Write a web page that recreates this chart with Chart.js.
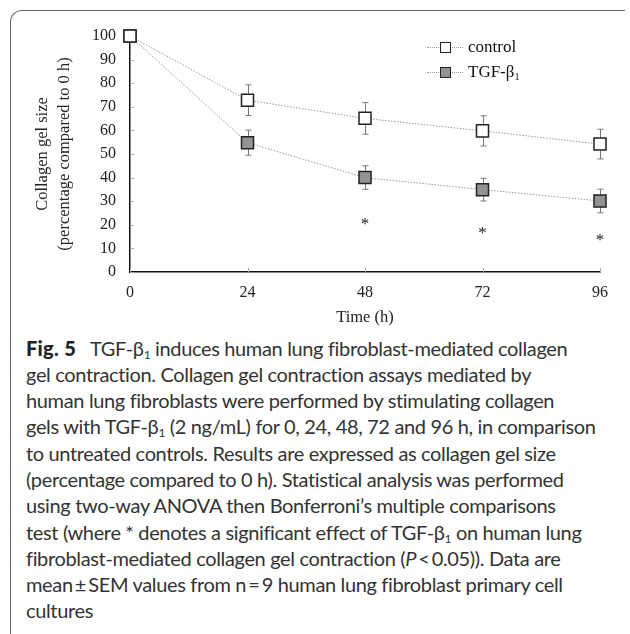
<!DOCTYPE html>
<html>
<head>
<meta charset="utf-8">
<script src="https://cdn.jsdelivr.net/npm/chart.js@4.4.1/dist/chart.umd.min.js"></script>
<style>
  html, body { margin: 0; padding: 0; background: #fff; }
  #page { position: relative; width: 630px; height: 634px; overflow: hidden; }
  #frame {
    position: absolute; left: 10px; top: 10px; width: 614px; height: 640px;
    border-top: 1.5px solid #666; border-left: 1.5px solid #666;
    border-top-left-radius: 12px;
  }
  #chart { position: absolute; left: 0; top: 0; }
  #legend { position: absolute; left: 427px; top: 34px; font: 17px "Liberation Serif", serif; color: #111; }
  .row { position: relative; height: 25.3px; display: flex; align-items: center; }
  .key { position: relative; width: 36px; height: 12px; margin-right: 5px; }
  .key::before { content: ""; position: absolute; left: 0; right: 0; top: 6px; border-top: 1px dotted #999; }
  .key span { position: absolute; left: 13px; top: 1px; width: 9px; height: 9px; border: 1.5px solid #222; }
  sub { font-size: 0.6em; line-height: 0; vertical-align: -0.25em; }
  #caption {
    position: absolute; left: 26px; top: 334.5px; white-space: nowrap;
    font: 20px Lato, "Noto Sans", sans-serif; letter-spacing: -0.35px; line-height: 26.3px; color: #333;
  }
  #caption b { color: #222; font-weight: 900; letter-spacing: 0.3px; margin-right: 5px; }
</style>
</head>
<body>
<div id="page">
  <div id="frame"></div>
  <canvas id="chart" width="630" height="332"></canvas>
  <div id="legend">
    <div class="row"><div class="key"><span style="background:#fff"></span></div><span>control</span></div>
    <div class="row"><div class="key"><span style="background:#939393"></span></div><span>TGF-β<sub>1</sub></span></div>
  </div>
  <div id="caption">
<b>Fig. 5</b>&nbsp; TGF-β<sub>1</sub> induces human lung fibroblast-mediated collagen<br>
gel contraction. Collagen gel contraction assays mediated by<br>
human lung fibroblasts were performed by stimulating collagen<br>
gels with TGF-β<sub>1</sub> (2 ng/mL) for 0, 24, 48, 72 and 96 h, in comparison<br>
to untreated controls. Results are expressed as collagen gel size<br>
(percentage compared to 0 h). Statistical analysis was performed<br>
using two-way ANOVA then Bonferroni’s multiple comparisons<br>
test (where * denotes a significant effect of TGF-β<sub>1</sub> on human lung<br>
fibroblast-mediated collagen gel contraction (<i>P</i>&thinsp;&lt;&thinsp;0.05)). Data are<br>
mean&thinsp;±&thinsp;SEM values from n&thinsp;=&thinsp;9 human lung fibroblast primary cell<br>
cultures
  </div>
</div>
<script>
// Temps (h) et valeurs
const horas = [0, 24, 48, 72, 96];
const controle = [100, 72.8, 65.1, 59.8, 54.2];
const controleSem = [0, 6.5, 6.7, 6.4, 6.3];
const tgf = [100, 54.8, 40.0, 34.9, 30.1];
const tgfSem = [0, 5.3, 5.0, 4.8, 5.0];
// Position verticale des astérisques (significatif vs contrôle)
const asteriscos = [null, null, 20.2, 16.4, 13.2];

const serif = "'Liberation Serif', 'Times New Roman', serif";

// Barres d'erreur (SEM) + petites graduations internes
const pluginErros = {
  id: 'erros',
  beforeDatasetsDraw(chart) {
    const { ctx, scales: { x, y }, chartArea } = chart;
    ctx.save();
    ctx.strokeStyle = '#aaa';
    ctx.lineWidth = 1;
    ctx.beginPath();
    y.ticks.forEach(t => {
      const py = Math.round(y.getPixelForValue(t.value)) + 0.5;
      ctx.moveTo(chartArea.left, py);
      ctx.lineTo(chartArea.left + 4, py);
    });
    x.ticks.forEach(t => {
      const px = Math.round(x.getPixelForValue(t.value)) + 0.5;
      ctx.moveTo(px, chartArea.bottom);
      ctx.lineTo(px, chartArea.bottom - 4);
    });
    ctx.stroke();

    ctx.strokeStyle = '#777';
    const series = [[controle, controleSem], [tgf, tgfSem]];
    series.forEach(([vals, sem]) => {
      vals.forEach((v, i) => {
        if (!sem[i]) return;
        const px = Math.round(x.getPixelForValue(horas[i])) + 0.5;
        const top = y.getPixelForValue(v + sem[i]);
        const bot = y.getPixelForValue(v - sem[i]);
        ctx.beginPath();
        ctx.moveTo(px, top); ctx.lineTo(px, bot);
        ctx.moveTo(px - 3, top); ctx.lineTo(px + 3, top);
        ctx.moveTo(px - 3, bot); ctx.lineTo(px + 3, bot);
        ctx.stroke();
      });
    });
    ctx.restore();
  },
  afterDatasetsDraw(chart) {
    const { ctx, scales: { x, y } } = chart;
    ctx.save();
    ctx.fillStyle = '#222';
    ctx.font = '17px ' + serif;
    ctx.textAlign = 'center';
    ctx.textBaseline = 'middle';
    asteriscos.forEach((v, i) => {
      if (v == null) return;
      ctx.fillText('*', x.getPixelForValue(horas[i]), y.getPixelForValue(v));
    });
    ctx.restore();
  }
};

new Chart(document.getElementById('chart'), {
  type: 'line',
  data: {
    datasets: [
      {
        label: 'control',
        data: horas.map((h, i) => ({ x: h, y: controle[i] })),
        borderColor: '#999',
        borderWidth: 1,
        borderDash: [1.5, 1.5],
        pointStyle: 'rect',
        pointRadius: 8.5,
        pointBackgroundColor: '#fff',
        pointBorderColor: '#222',
        pointBorderWidth: 1.5,
        clip: false
      },
      {
        label: 'TGF-β1',
        data: horas.map((h, i) => ({ x: h, y: tgf[i] })),
        borderColor: '#999',
        borderWidth: 1,
        borderDash: [1.5, 1.5],
        pointStyle: 'rect',
        pointRadius: 8.5,
        pointBackgroundColor: '#939393',
        pointBorderColor: '#222',
        pointBorderWidth: 1.5,
        clip: false
      }
    ]
  },
  options: {
    responsive: false,
    animation: false,
    events: [],
    layout: { padding: { left: 28, top: 36, right: 30, bottom: 0 } },
    plugins: { legend: { display: false }, tooltip: { enabled: false } },
    scales: {
      x: {
        type: 'linear',
        min: 0, max: 96,
        grid: { display: false, drawTicks: false },
        border: { display: true, color: '#111', width: 1.5 },
        ticks: { stepSize: 24, padding: 11, color: '#222', font: { family: serif, size: 16 } },
        title: { display: true, text: 'Time (h)', color: '#222', font: { family: serif, size: 16.5 }, padding: 4 },
        afterFit: s => { s.height = 60; }
      },
      y: {
        min: 0, max: 100,
        grid: { display: false, drawTicks: false },
        border: { display: true, color: '#111', width: 1.5 },
        ticks: { stepSize: 10, padding: 14, color: '#222', font: { family: serif, size: 16 } },
        title: {
          display: true,
          text: ['Collagen gel size', '(percentage compared to 0 h)'],
          color: '#222',
          font: { family: serif, size: 16.5, lineHeight: 1.33 },
          padding: 4
        },
        afterFit: s => { s.width = 102; }
      }
    }
  },
  plugins: [pluginErros]
});
</script>
</body>
</html>
